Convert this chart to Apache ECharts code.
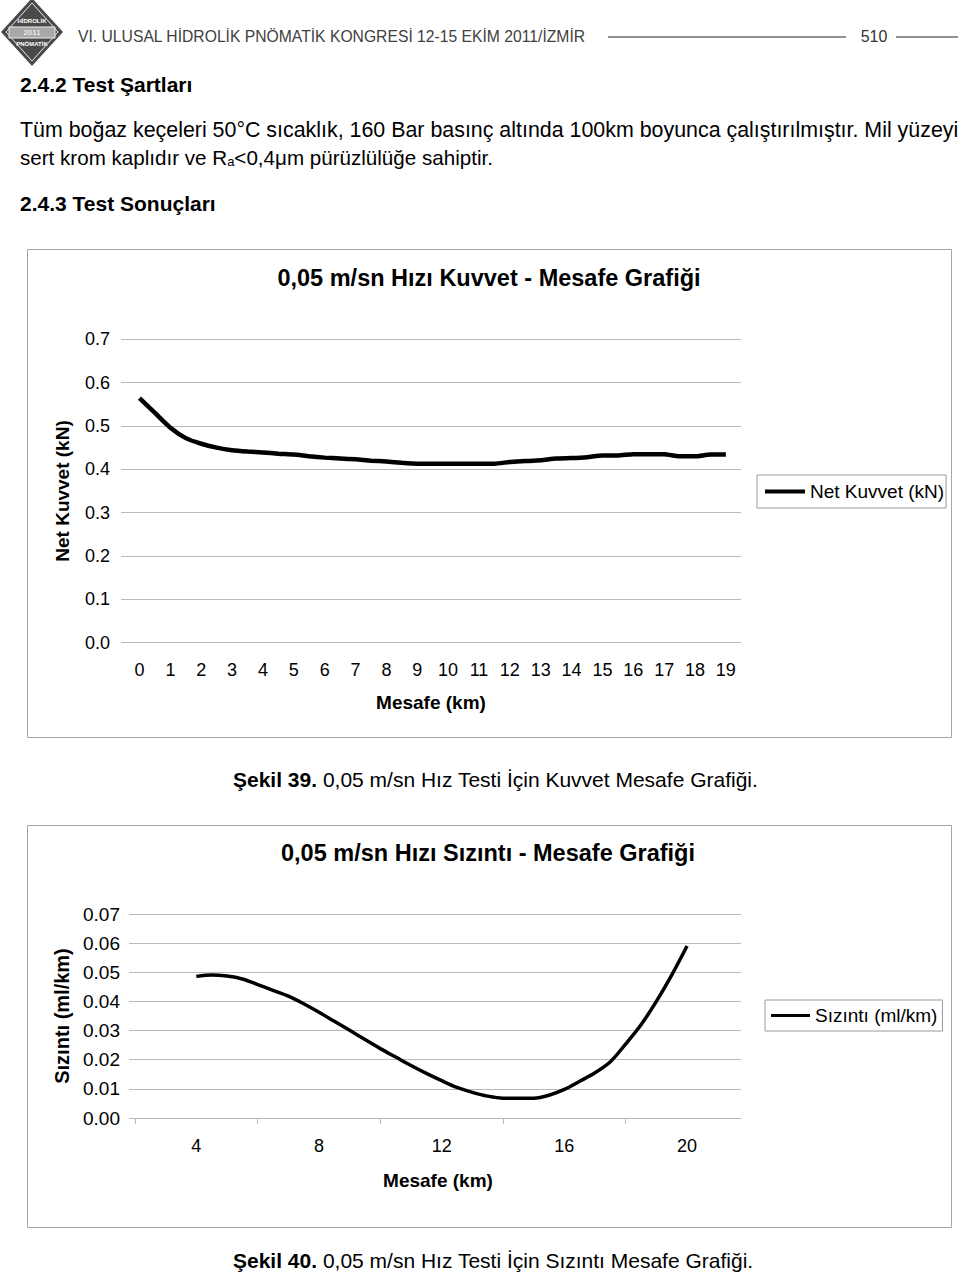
<!DOCTYPE html>
<html>
<head>
<meta charset="utf-8">
<script src="https://cdn.jsdelivr.net/npm/echarts@6/dist/echarts.min.js"></script>
<style>
html,body{margin:0;padding:0;background:#fff;}
#page{width:960px;height:1275px;}
</style>
</head>
<body>
<div id="page"></div>
<script>
// ---- data ----
const forceKm = [0,0.5,1,1.5,2,2.5,3,3.5,4,4.5,5,5.5,6,6.5,7,7.5,8,8.5,9,9.5,10,10.5,11,11.5,12,12.5,13,13.5,14,14.5,15,15.5,16,16.5,17,17.5,18,18.5,19];
const forceKN = [0.564,0.530,0.496,0.472,0.459,0.450,0.444,0.441,0.439,0.436,0.434,0.430,0.427,0.425,0.423,0.420,0.418,0.415,0.413,0.413,0.413,0.413,0.413,0.413,0.417,0.419,0.421,0.425,0.426,0.428,0.432,0.432,0.435,0.435,0.435,0.430,0.430,0.434,0.434];
const forceXLabels = [0,1,2,3,4,5,6,7,8,9,10,11,12,13,14,15,16,17,18,19];

const leakKm = [4,4.5,5,5.5,6,6.5,7,7.5,8,8.5,9,9.5,10,10.5,11,11.5,12,12.5,13,13.5,14,14.5,15,15.5,16,16.5,17,17.5,18,18.5,19,19.5,20];
const leakMl = [0.0486,0.0491,0.0487,0.0477,0.0458,0.0438,0.0418,0.0392,0.0363,0.0332,0.0301,0.0269,0.0238,0.0209,0.0180,0.0153,0.0128,0.0105,0.0088,0.0075,0.0068,0.0068,0.0068,0.0078,0.0098,0.0126,0.0155,0.0193,0.0254,0.0320,0.0400,0.0490,0.0590];
const leakXLabels = [4,8,12,16,20];
const leakXTicks = [2,6,10,14,18];

const forceName = 'Net Kuvvet (kN)';
const leakName = 'Sızıntı (ml/km)';
const forceTitle = '0,05 m/sn Hızı Kuvvet - Mesafe Grafiği';
const leakTitle = '0,05 m/sn Hızı Sızıntı - Mesafe Grafiği';

// ---- chart ----
const FONT = "'Liberation Sans', Arial, sans-serif";
const chart = echarts.init(document.getElementById('page'), null, {renderer: 'svg', width: 960, height: 1275});

function txt(x, y, text, size, opts) {
  return Object.assign({
    type: 'text', x: x, y: y, silent: true,
    style: Object.assign({text: text, fontSize: size, fontFamily: FONT, fill: '#000',
      verticalAlign: 'middle', align: 'left'}, (opts && opts.style) || {})
  }, (opts && opts.el) || {});
}

const gridColor = '#b9b9b9';

const option = {
  animation: false,
  backgroundColor: '#fff',
  textStyle: {fontFamily: FONT, color: '#000'},
  grid: [
    {left: 121, top: 339.3, width: 620, height: 303.4, containLabel: false, outerBoundsMode: 'none'},
    {left: 135, top: 914, width: 606, height: 204, containLabel: false, outerBoundsMode: 'none'}
  ],
  xAxis: [
    {
      type: 'value', gridIndex: 0, min: -0.6, max: 19.49,
      axisLine: {show: false}, axisTick: {show: false}, splitLine: {show: false},
      axisLabel: {customValues: forceXLabels, fontSize: 18, color: '#000', margin: 18, fontFamily: FONT},
      name: 'Mesafe (km)', nameLocation: 'middle', nameGap: 50,
      nameTextStyle: {fontSize: 19, fontWeight: 'bold', color: '#000', fontFamily: FONT}
    },
    {
      type: 'value', gridIndex: 1, min: 2, max: 21.76, interval: 4,
      axisLine: {show: true, lineStyle: {color: gridColor, width: 1}},
      axisTick: {show: true, customValues: leakXTicks, length: 6, lineStyle: {color: gridColor}},
      splitLine: {show: false},
      axisLabel: {customValues: leakXLabels, fontSize: 18, color: '#000', margin: 19, fontFamily: FONT},
      name: 'Mesafe (km)', nameLocation: 'middle', nameGap: 53,
      nameTextStyle: {fontSize: 19, fontWeight: 'bold', color: '#000', fontFamily: FONT}
    }
  ],
  yAxis: [
    {
      type: 'value', gridIndex: 0, min: 0, max: 0.7, interval: 0.1,
      axisLine: {show: false},
      axisTick: {show: true, length: 3, lineStyle: {color: gridColor}},
      splitLine: {show: true, lineStyle: {color: gridColor, width: 1}},
      axisLabel: {formatter: v => v.toFixed(1), fontSize: 18, color: '#000', margin: 11, fontFamily: FONT},
      name: forceName, nameLocation: 'middle', nameRotate: 90, nameGap: 49,
      nameTextStyle: {fontSize: 19, fontWeight: 'bold', color: '#000', fontFamily: FONT}
    },
    {
      type: 'value', gridIndex: 1, min: 0, max: 0.07, interval: 0.01,
      axisLine: {show: false},
      axisTick: {show: true, length: 6, lineStyle: {color: gridColor}},
      splitLine: {show: true, lineStyle: {color: gridColor, width: 1}},
      axisLabel: {formatter: v => v.toFixed(2), fontSize: 19, color: '#000', margin: 15, fontFamily: FONT},
      name: leakName, nameLocation: 'middle', nameRotate: 90, nameGap: 60,
      nameTextStyle: {fontSize: 20, fontWeight: 'bold', color: '#000', fontFamily: FONT}
    }
  ],
  legend: [
    {
      data: [forceName], left: 757, top: 475, orient: 'vertical',
      padding: [7, 2, 7, 8], borderColor: '#9a9a9a', borderWidth: 1,
      icon: 'rect', itemWidth: 40, itemHeight: 4, itemGap: 0, selectedMode: false,
      itemStyle: {color: '#000'},
      textStyle: {fontSize: 19, color: '#000', fontFamily: FONT}
    },
    {
      data: [leakName], left: 765, top: 1000, orient: 'vertical',
      padding: [6, 5, 6, 6], borderColor: '#9a9a9a', borderWidth: 1,
      icon: 'rect', itemWidth: 39, itemHeight: 3, itemGap: 0, selectedMode: false,
      itemStyle: {color: '#000'},
      textStyle: {fontSize: 19, color: '#000', fontFamily: FONT}
    }
  ],
  series: [
    {
      name: forceName, type: 'line', xAxisIndex: 0, yAxisIndex: 0,
      data: forceKm.map((k, i) => [k, forceKN[i]]),
      symbol: 'none', smooth: 0.2, lineStyle: {color: '#000', width: 4.5}, itemStyle: {color: '#000'}
    },
    {
      name: leakName, type: 'line', xAxisIndex: 1, yAxisIndex: 1,
      data: leakKm.map((k, i) => [k, leakMl[i]]),
      symbol: 'none', smooth: 0.3, lineStyle: {color: '#000', width: 3.5}, itemStyle: {color: '#000'}
    }
  ],
  graphic: [
    // logo
    {type: 'polygon', silent: true, shape: {points: [[32, -2], [63, 32], [32, 66], [1, 32]]}, style: {fill: '#4a4a4a'}},
    {type: 'polygon', silent: true, shape: {points: [[32, 3], [58, 32], [32, 61], [6, 32]]}, style: {fill: 'none', stroke: '#e6e6e6', lineWidth: 1}},
    {type: 'rect', silent: true, shape: {x: 9, y: 27, width: 46, height: 11}, style: {fill: '#a8a8a8', stroke: '#eeeeee', lineWidth: 1}},
    txt(32, 21, 'HİDROLİK', 6, {style: {align: 'center', fill: '#fff', fontWeight: 'bold'}}),
    txt(32, 32.5, '2011', 8, {style: {align: 'center', fill: '#fff'}}),
    txt(32, 44, 'PNÖMATİK', 6, {style: {align: 'center', fill: '#fff', fontWeight: 'bold'}}),
    // header
    txt(78, 36, 'VI. ULUSAL HİDROLİK PNÖMATİK KONGRESİ 12-15 EKİM 2011/İZMİR', 15.7, {style: {fill: '#404040'}}),
    {type: 'line', silent: true, shape: {x1: 608, y1: 37, x2: 846, y2: 37}, style: {stroke: '#222', lineWidth: 1.2}},
    txt(874, 36, '510', 16, {style: {align: 'center', fill: '#333'}}),
    {type: 'line', silent: true, shape: {x1: 896, y1: 37, x2: 958, y2: 37}, style: {stroke: '#222', lineWidth: 1.2}},
    // body text
    txt(20, 84, '2.4.2 Test Şartları', 21, {style: {fontWeight: 'bold'}}),
    txt(20, 130, 'Tüm boğaz keçeleri 50°C sıcaklık, 160 Bar basınç altında 100km boyunca çalıştırılmıştır. Mil yüzeyi', 21.4),
    txt(20, 157, 'sert krom kaplıdır ve R{sub|a}<0,4μm pürüzlülüğe sahiptir.', 20.6,
      {style: {rich: {sub: {fontSize: 13, fontFamily: FONT, verticalAlign: 'bottom', lineHeight: 13}}}}),
    txt(20, 203, '2.4.3 Test Sonuçları', 21, {style: {fontWeight: 'bold'}}),
    // chart frames
    {type: 'rect', silent: true, z: -1, shape: {x: 27.5, y: 249.5, width: 924, height: 488}, style: {fill: '#fff', stroke: '#a6a6a6', lineWidth: 1}},
    {type: 'rect', silent: true, z: -1, shape: {x: 27.5, y: 825.5, width: 924, height: 402}, style: {fill: '#fff', stroke: '#a6a6a6', lineWidth: 1}},
    // chart titles
    txt(489, 278, forceTitle, 23.5, {style: {align: 'center', fontWeight: 'bold'}}),
    txt(488, 853, leakTitle, 23.5, {style: {align: 'center', fontWeight: 'bold'}}),
    // captions
    txt(233, 779, '{b|Şekil 39.} 0,05 m/sn Hız Testi İçin Kuvvet Mesafe Grafiği.', 21,
      {style: {rich: {b: {fontWeight: 'bold', fontSize: 21, fontFamily: FONT}}}}),
    txt(233, 1260, '{b|Şekil 40.} 0,05 m/sn Hız Testi İçin Sızıntı Mesafe Grafiği.', 21,
      {style: {rich: {b: {fontWeight: 'bold', fontSize: 21, fontFamily: FONT}}}})
  ]
};
chart.setOption(option);
</script>
</body>
</html>
